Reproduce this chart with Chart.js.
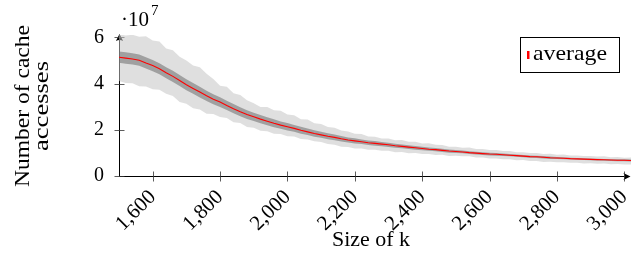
<!DOCTYPE html>
<html><head><meta charset="utf-8">
<script src="https://cdn.jsdelivr.net/npm/chart.js@4/dist/chart.umd.min.js"></script>
<style>html,body{margin:0;padding:0;background:#fff;}canvas{display:block;}</style>
</head><body>
<canvas id="c" width="631" height="256"></canvas>
<script>
// Size of k
const kValues = [
 1500,1520,1540,1560,1580,1600,1620,1640,1660,1680,
 1700,1720,1740,1760,1780,1800,1820,1840,1860,1880,
 1900,1920,1940,1960,1980,2000,2020,2040,2060,2080,
 2100,2120,2140,2160,2180,2200,2220,2240,2260,2280,
 2300,2320,2340,2360,2380,2400,2420,2440,2460,2480,
 2500,2520,2540,2560,2580,2600,2620,2640,2660,2680,
 2700,2720,2740,2760,2780,2800,2820,2840,2860,2880,
 2900,2920,2940,2960,2980,3000,3020];
// Number of cache accesses, in units of 10^7
const meanAccesses = [
 5.14,5.10,5.06,5.01,4.89,4.78,4.64,4.47,4.31,4.13,
 3.95,3.79,3.63,3.47,3.32,3.20,3.05,2.91,2.78,2.66,
 2.56,2.46,2.37,2.28,2.20,2.13,2.06,1.98,1.91,1.84,
 1.78,1.72,1.67,1.61,1.56,1.52,1.48,1.44,1.41,1.38,
 1.35,1.31,1.28,1.25,1.22,1.19,1.16,1.14,1.11,1.08,
 1.06,1.04,1.01,0.99,0.97,0.95,0.94,0.92,0.90,0.88,
 0.86,0.84,0.83,0.81,0.79,0.78,0.77,0.75,0.74,0.73,
 0.72,0.71,0.70,0.69,0.68,0.68,0.67];
const darkUpper = [
 5.39,5.35,5.31,5.26,5.14,5.02,4.88,4.71,4.55,4.37,
 4.19,4.02,3.86,3.69,3.54,3.41,3.26,3.11,2.97,2.84,
 2.74,2.64,2.54,2.45,2.36,2.29,2.21,2.13,2.05,1.98,
 1.91,1.85,1.79,1.73,1.67,1.63,1.58,1.54,1.51,1.47,
 1.44,1.40,1.36,1.33,1.30,1.27,1.23,1.21,1.18,1.15,
 1.13,1.10,1.07,1.05,1.03,1.01,1.00,0.97,0.95,0.93,
 0.91,0.89,0.88,0.86,0.84,0.82,0.81,0.79,0.78,0.77,
 0.76,0.75,0.74,0.73,0.72,0.72,0.71];
const darkLower = [
 4.90,4.86,4.82,4.77,4.65,4.53,4.40,4.23,4.07,3.89,
 3.71,3.56,3.40,3.25,3.10,2.99,2.85,2.71,2.58,2.47,
 2.38,2.28,2.20,2.11,2.04,1.97,1.91,1.83,1.77,1.70,
 1.65,1.59,1.55,1.49,1.45,1.41,1.38,1.34,1.31,1.29,
 1.26,1.22,1.20,1.17,1.14,1.11,1.09,1.07,1.04,1.01,
 0.99,0.98,0.95,0.93,0.91,0.89,0.88,0.87,0.85,0.83,
 0.81,0.79,0.78,0.76,0.74,0.74,0.73,0.71,0.70,0.69,
 0.68,0.67,0.66,0.65,0.64,0.64,0.63];
const lightUpper = [
 6.13,6.08,6.11,6.02,6.05,5.86,5.82,5.52,5.44,5.16,
 5.00,4.78,4.70,4.42,4.20,3.90,3.86,3.58,3.50,3.28,
 3.15,2.99,2.98,2.84,2.82,2.66,2.63,2.46,2.44,2.28,
 2.25,2.12,2.09,1.97,1.93,1.83,1.82,1.71,1.70,1.62,
 1.62,1.55,1.56,1.48,1.48,1.41,1.42,1.35,1.34,1.27,
 1.27,1.22,1.23,1.17,1.17,1.12,1.13,1.08,1.08,1.03,
 1.03,0.99,0.99,0.95,0.96,0.92,0.93,0.89,0.89,0.86,
 0.87,0.84,0.85,0.81,0.82,0.79,0.80];
const lightLower = [
 4.11,4.02,4.01,3.88,3.87,3.75,3.73,3.56,3.46,3.20,
 3.13,2.93,2.88,2.69,2.68,2.55,2.51,2.33,2.29,2.12,
 2.09,1.96,1.94,1.83,1.82,1.72,1.71,1.60,1.58,1.50,
 1.47,1.38,1.35,1.27,1.26,1.19,1.19,1.14,1.14,1.09,
 1.09,1.03,1.04,0.98,0.99,0.95,0.95,0.91,0.92,0.87,
 0.88,0.85,0.85,0.80,0.80,0.76,0.76,0.72,0.72,0.68,
 0.69,0.65,0.65,0.61,0.62,0.59,0.60,0.57,0.57,0.54,
 0.55,0.53,0.54,0.51,0.52,0.50,0.50];
const xTickValues = [1600,1800,2000,2200,2400,2600,2800,3000];
const xTickLabels = ['1,600','1,800','2,000','2,200','2,400','2,600','2,800','3,000'];
const yTickValues = [0,2,4,6];
const yTickLabels = ['0','2','4','6'];
const seriesLabel = 'average';
const xTitle = 'Size of k';
const yTitleLines = ['Number of cache','accesses'];
const yExponent = '7';

const SERIF = "'Liberation Serif','Times New Roman',serif";
const pts = arr => arr.map((v,i)=>({x:kValues[i], y:v}));

function stretchText(ctx, text, x, y, targetW){
  const w = ctx.measureText(text).width;
  ctx.save(); ctx.translate(x,y); ctx.scale(targetW/w,1);
  ctx.fillText(text,0,0); ctx.restore();
}

const axesPlugin = {
  id:'axesPlugin',
  beforeDatasetsDraw(chart){
    const ctx = chart.ctx, xs = chart.scales.x, ys = chart.scales.y;
    const x0 = Math.round(xs.getPixelForValue(1500)) + 0.5;
    const y0 = Math.round(ys.getPixelForValue(0)) + 0.5;
    ctx.save();
    ctx.strokeStyle = '#000'; ctx.fillStyle = '#000'; ctx.lineWidth = 1;
    ctx.beginPath();
    ctx.moveTo(x0, y0); ctx.lineTo(627, y0);
    ctx.moveTo(x0, y0); ctx.lineTo(x0, 38);
    ctx.stroke();
    ctx.beginPath();
    ctx.moveTo(630.5, y0); ctx.lineTo(623.5, y0-3.6);
    ctx.quadraticCurveTo(625.5, y0, 623.5, y0+3.6); ctx.closePath(); ctx.fill();
    ctx.beginPath();
    ctx.moveTo(x0, 34); ctx.lineTo(x0-3.6, 41);
    ctx.quadraticCurveTo(x0, 39, x0+3.6, 41); ctx.closePath(); ctx.fill();
    ctx.strokeStyle = '#333'; ctx.lineWidth = 0.8;
    ctx.beginPath();
    xTickValues.forEach(v=>{
      const px = Math.round(xs.getPixelForValue(v)) + 0.5;
      ctx.moveTo(px, y0-5); ctx.lineTo(px, y0+5);
    });
    yTickValues.forEach(v=>{
      const py = Math.round(ys.getPixelForValue(v)) + 0.5;
      ctx.moveTo(x0-5, py); ctx.lineTo(x0+5, py);
    });
    ctx.stroke();
    ctx.restore();
  },
  afterDraw(chart){
    const ctx = chart.ctx;
    ctx.save();
    ctx.fillStyle = '#000';
    ctx.textBaseline = 'alphabetic';
    ctx.font = '21px ' + SERIF;
    ctx.textAlign = 'left';
    ctx.fillText('\u00b710', 121, 26);
    const w = ctx.measureText('\u00b710').width;
    ctx.font = '15px ' + SERIF;
    ctx.fillText(yExponent, 121 + w + 2, 15);
    ctx.font = '21px ' + SERIF;
    ctx.textAlign = 'center';
    stretchText(ctx, xTitle, 371, 246, 78);
    ctx.save(); ctx.translate(29, 106); ctx.rotate(-Math.PI/2);
    stretchText(ctx, yTitleLines[0], 0, 0, 162); ctx.restore();
    ctx.save(); ctx.translate(48, 106); ctx.rotate(-Math.PI/2);
    stretchText(ctx, yTitleLines[1], 0, 0, 90); ctx.restore();
    ctx.strokeStyle = '#000'; ctx.lineWidth = 1;
    ctx.strokeRect(520.5, 37.5, 99, 35);
    ctx.fillStyle = chart.data.datasets[4].borderColor;
    ctx.fillRect(527, 51, 2.5, 8);
    ctx.fillStyle = '#000';
    ctx.textAlign = 'left';
    stretchText(ctx, chart.data.datasets[4].label, 533, 60, 74);
    ctx.restore();
  }
};

const LIGHT = 'rgba(196,196,196,0.55)';
const DARK = 'rgba(110,110,110,0.55)';

new Chart(document.getElementById('c'), {
  type:'line',
  data:{ datasets:[
    {label:'lightUpper', data:pts(lightUpper), fill:1, backgroundColor:LIGHT, borderWidth:0, borderColor:'rgba(0,0,0,0)', order:4},
    {label:'lightLower', data:pts(lightLower), fill:false, borderWidth:0, borderColor:'rgba(0,0,0,0)', order:4},
    {label:'darkUpper', data:pts(darkUpper), fill:3, backgroundColor:DARK, borderWidth:0, borderColor:'rgba(0,0,0,0)', order:2},
    {label:'darkLower', data:pts(darkLower), fill:false, borderWidth:0, borderColor:'rgba(0,0,0,0)', order:2},
    {label:seriesLabel, data:pts(meanAccesses), fill:false, borderColor:'#ff0000', borderWidth:1.1, order:0}
  ]},
  options:{
    responsive:false, animation:false, devicePixelRatio:1,
    layout:{padding:{left:0,right:0,top:35,bottom:0}},
    plugins:{legend:{display:false}, tooltip:{enabled:false}},
    elements:{point:{radius:0}, line:{tension:0}},
    scales:{
      x:{type:'linear', min:1500, max:3020,
        grid:{display:false}, border:{display:false},
        afterBuildTicks:s=>{ s.ticks = xTickValues.map(v=>({value:v})); },
        afterFit:s=>{ s.height = 80; s.paddingLeft = 0; s.paddingRight = 0; },
        ticks:{autoSkip:false, minRotation:45, maxRotation:45, padding:1, color:'#000',
          font:{family:SERIF, size:21}, callback:(v,i)=>xTickLabels[i]}},
      y:{type:'linear', min:0, max:6.1,
        grid:{display:false}, border:{display:false},
        afterBuildTicks:s=>{ s.ticks = yTickValues.map(v=>({value:v})); },
        afterFit:s=>{ s.width = 119; s.paddingTop = 0; s.paddingBottom = 0; },
        ticks:{padding:7, color:'#000', font:{family:SERIF, size:20}, callback:(v,i)=>yTickLabels[i]}}
    }
  },
  plugins:[axesPlugin]
});
</script>
</body></html>
